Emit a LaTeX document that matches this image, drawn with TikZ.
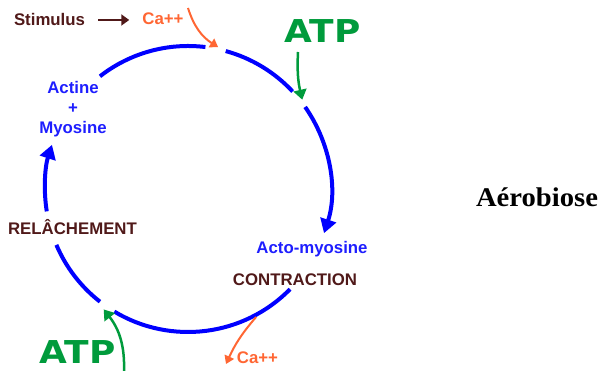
\documentclass[tikz,border=0pt]{standalone}
\usepackage{fontspec}
\setmainfont{Liberation Sans}
\newfontfamily\atpfont{DejaVu Sans}
\newfontfamily\serifb{Liberation Serif}
\usetikzlibrary{arrows.meta,calc}
\definecolor{cbrown}{RGB}{80,25,25}
\definecolor{corange}{RGB}{255,102,51}
\definecolor{cgreen}{RGB}{0,155,60}
\definecolor{cblue}{RGB}{0,0,255}
\definecolor{tblue}{RGB}{30,30,255}
\begin{document}
\begin{tikzpicture}[x=1pt,y=1pt,
  lbl/.style={inner sep=0pt, anchor=base, font=\fontsize{16.8}{18}\selectfont\bfseries},
  atp/.style={inner sep=0pt, anchor=base, text=cgreen, xscale=1.14, font=\atpfont\fontsize{31.5}{32}\selectfont\bfseries},
  aero/.style={inner sep=0pt, anchor=base, text=black, xscale=1.06, font=\serifb\fontsize{27}{28}\selectfont\bfseries},
  cyc/.style={draw=cblue, line width=4pt},
  cycarrow/.style={cyc, -{Triangle[width=16pt,length=14pt]}},
  oarrow/.style={draw=corange, line width=2pt, -{Triangle[width=10pt,length=8pt]}},
  garrow/.style={draw=cgreen, line width=2.5pt, -{Triangle[width=13pt,length=10pt]}},
  sarrow/.style={draw=cbrown, line width=2.5pt, -{Triangle[width=11pt,length=8pt]}}]
\useasboundingbox (0,0) rectangle (601,371);

% labels
\node[lbl,text=cbrown] (stim) at (49.5,345) {Stimulus};
\node[lbl,text=corange] (caTop) at (163,346) {Ca++};
\node[atp] (atpTop) at (322.5,328) {ATP};
\node[lbl,text=tblue] (actine) at (73,277.5) {Actine};
\node[lbl,text=tblue] (plus) at (73,257.5) {+};
\node[lbl,text=tblue] (myosine) at (73,237) {Myosine};
\node[lbl,text=cbrown] (relach) at (72.5,136) {RELÂCHEMENT};
\node[lbl,text=tblue] (acto) at (312,117.7) {Acto-myosine};
\node[lbl,text=cbrown] (contr) at (295,85.7) {CONTRACTION};
\node[atp] (atpBot) at (77.5,7.6) {ATP};
\node[lbl,text=corange] (caBot) at (257.5,7.7) {Ca++};
\node[aero] (aero) at (537,164.3) {Aérobiose};

% cycle geometry
\coordinate (C) at (188,182);
\coordinate (a1s) at ($(C)+(128:143)$);
\coordinate (a2s) at ($(C)+(74.7:143)$);
\coordinate (a3s) at ($(C)+(35:143)$);
\coordinate (a4s) at ($(C)+(189:143)$);
\coordinate (a5s) at ($(C)+(203:143)$);
\coordinate (a6s) at ($(C)+(239:143)$);

\draw[cyc] (a1s) arc[start angle=128, end angle=83, radius=143];
\draw[cyc] (a2s) arc[start angle=74.7, end angle=43, radius=143];
\draw[cycarrow] (a3s) arc[start angle=35, end angle=-18, radius=143];
\draw[cycarrow] (a4s) arc[start angle=189, end angle=162, radius=143];
\draw[cyc] (a5s) arc[start angle=203, end angle=232, radius=143];
\draw[cyc] (a6s) arc[start angle=239, end angle=315.5, radius=143];

% inputs / outputs
\coordinate (caTopSrc) at (188,363);
\coordinate (caTopTip) at ($(C)+(78:145)$);
\coordinate (atpTopSrc) at (298,319);
\coordinate (atpTopTip) at ($(C)+(38:145)$);
\coordinate (atpBotSrc) at (124,-1);
\coordinate (atpBotTip) at ($(C)+(235:147)$);
\coordinate (caBotSrc) at ($(C)+(-62:145)$);
\coordinate (caBotTip) at (226,7);

\draw[sarrow, shorten <=13pt, shorten >=13pt] (stim.east) -- (stim.east -| caTop.west);
\draw[oarrow] (caTopSrc) to[bend right=20] (caTopTip);
\draw[garrow] (atpTopSrc) to[bend right=8] (atpTopTip);
\draw[garrow] (atpBotSrc) to[bend right=20] (atpBotTip);
\draw[oarrow] (caBotSrc) to[bend right=8] (caBotTip);
\end{tikzpicture}
\end{document}
